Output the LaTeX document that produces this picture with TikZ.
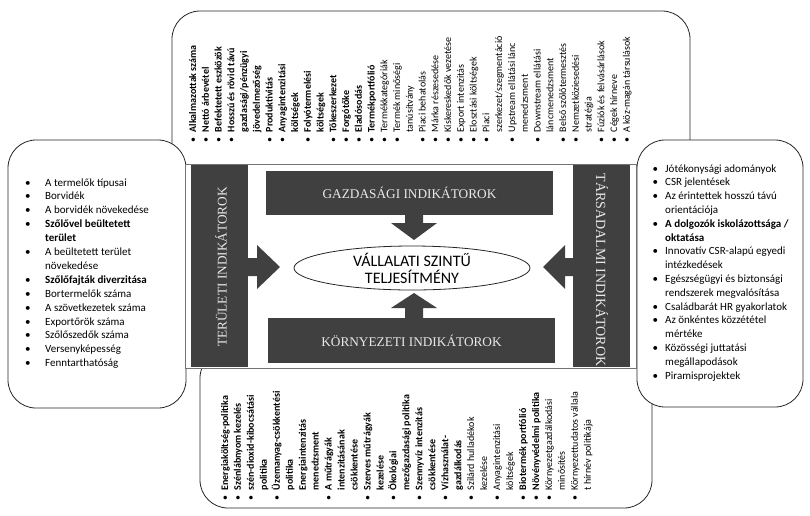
\documentclass[tikz,border=0pt]{standalone}
\usepackage{fontspec}
\setmainfont{Carlito}
\newfontfamily\barserif{Liberation Serif}
\usetikzlibrary{shapes.geometric}
\definecolor{barc}{HTML}{404040}
\definecolor{bartxt}{HTML}{E8E8E8}
\newlength\bulw
\newcommand\lbul{\makebox[\bulw][l]{\textbullet}}
\newcommand\lnob{\hspace*{\bulw}}
\begin{document}
\begin{tikzpicture}[x=1pt,y=-1pt,
  box/.style={draw=black!85,line width=0.8pt,fill=white,rounded corners=28pt},
  darkbar/.style={fill=barc},
  bartext/.style={text=bartxt,font=\barserif\fontsize{13.3}{15}\selectfont,inner sep=0pt},
  vlist/.style={rotate=90,anchor=base west,inner sep=0pt,font={\fontsize{10}{12}\selectfont\setlength\bulw{10pt}}},
  hlistL/.style={anchor=base west,inner sep=0pt,font={\fontsize{11}{13}\selectfont\setlength\bulw{20pt}}},
  hlistR/.style={anchor=base west,inner sep=0pt,font={\fontsize{11}{13}\selectfont\setlength\bulw{12.5pt}}}]
\useasboundingbox (0,0) rectangle (810,515);
\fill[white] (0,0) rectangle (810,515);
% outer boxes
\draw[box] (172,11) rectangle (690,180);
\draw[box] (200,350) rectangle (652,508);
\draw[box] (8,140) rectangle (186,408);
\draw[box] (637,140) rectangle (803,407);
% central frame
\draw[draw=black!55,line width=0.8pt,fill=white] (185,164) rectangle (636,368);
% bars
\fill[darkbar] (191,165) rectangle (248,367);
\fill[darkbar] (573,165) rectangle (630,367);
\fill[darkbar] (266,171) rectangle (553,215);
\fill[darkbar] (268,318) rectangle (555,363);
\node[bartext,rotate=90] (terl) at (221,267) {TERÜLETI INDIKÁTOROK};
\node[bartext,rotate=-90,font=\barserif\fontsize{14}{15}\selectfont] (tars) at (602,270) {TÁRSADALMI INDIKÁTOROK};
\node[bartext] (gazd) at (409.5,193) {GAZDASÁGI INDIKÁTOROK};
\node[bartext] (korny) at (411.5,340.5) {KÖRNYEZETI INDIKÁTOROK};
% block arrows
\fill[darkbar] (405,214) -- (423,214) -- (423,223) -- (437,223) -- (414,240) -- (391,223) -- (405,223) -- cycle;
\fill[darkbar] (405,319) -- (423,319) -- (423,308) -- (437,308) -- (414,293) -- (391,308) -- (405,308) -- cycle;
\fill[darkbar] (247,258) -- (257,258) -- (257,245) -- (280,267) -- (257,289) -- (257,276) -- (247,276) -- cycle;
\fill[darkbar] (574,258) -- (565,258) -- (565,245) -- (543,267) -- (565,289) -- (565,276) -- (574,276) -- cycle;
% centre ellipse
\node[ellipse,draw=black!85,line width=0.8pt,fill=white,minimum width=236pt,minimum height=44pt,inner sep=0pt,align=center,font=\fontsize{16}{17}\selectfont] (perf) at (412,268) {VÁLLALATI SZINTŰ\\TELJESÍTMÉNY};
% top list
\foreach \txt [count=\i from 0] in {
 {\lbul\textbf{Alkalmazottak száma}},
 {\lbul\textbf{Nettó árbevétel}},
 {\lbul\textbf{Befektetett eszközök}},
 {\lbul\textbf{Hosszú és rövid távú}},
 {\lnob\textbf{gazdasági/pénzügyi}},
 {\lnob\textbf{jövedelmezőség}},
 {\lbul\textbf{Produktivitás}},
 {\lbul\textbf{Anyagintenzitási}},
 {\lnob\textbf{költségek}},
 {\lbul\textbf{Folyótermelési}},
 {\lnob\textbf{költségek}},
 {\lbul\textbf{Tőkeszerkezet}},
 {\lbul\textbf{Forgótőke}},
 {\lbul\textbf{Eladósodás}},
 {\lbul\textbf{Termékportfólió}},
 {\lbul Termékkategóriák},
 {\lbul Termék minőségi},
 {\lnob tanúsítvány},
 {\lbul Piaci behatolás},
 {\lbul Márka részesedése},
 {\lbul Kiskereskedők vezetése},
 {\lbul Export intenzitás},
 {\lbul Elosztási költségek},
 {\lbul Piaci},
 {\lnob szerkezet/szegmentáció},
 {\lbul Upstream ellátási lánc},
 {\lnob menedzsment},
 {\lbul Downstream ellátási},
 {\lnob láncmenedzsment},
 {\lbul Belső szőlőtermesztés},
 {\lbul Nemzetköziesedési},
 {\lnob stratégia},
 {\lbul Fúziók és felvásárlások},
 {\lbul Cégek hírneve},
 {\lbul A köz-magán társulások}}
 \node[vlist] (top\i) at ({196+\i*12.76},142.5) {\txt};
% bottom list
\foreach \txt [count=\i from 0] in {
 {\lbul\textbf{Energiaköltség-politika}},
 {\lbul\textbf{Szénlábnyom kezelés}},
 {\lbul\textbf{szén-dioxid-kibocsátási}},
 {\lnob\textbf{politika}},
 {\lbul\textbf{Üzemanyag-csökkentési}},
 {\lnob\textbf{politika}},
 {\lnob\textbf{Energiaintenzitás}},
 {\lnob\textbf{menedzsment}},
 {\lbul\textbf{A műtrágyák}},
 {\lnob\textbf{intenzitásának}},
 {\lnob\textbf{csökkentése}},
 {\lbul\textbf{Szerves műtrágyák}},
 {\lnob\textbf{kezelése}},
 {\lbul\textbf{Ökológiai}},
 {\lnob\textbf{mezőgazdasági politika}},
 {\lbul\textbf{Szennyvíz intenzitás}},
 {\lnob\textbf{csökkentése}},
 {\lbul\textbf{Vízhasználat-}},
 {\lnob\textbf{gazdálkodás}},
 {\lbul Szilárd hulladékok},
 {\lnob kezelése},
 {\lbul Anyagintenzitási},
 {\lnob költségek},
 {\lbul\textbf{Biotermék portfólió}},
 {\lbul\textbf{Növényvédelmi politika}},
 {\lbul Környezetgazdálkodási},
 {\lnob minősítés},
 {\lbul Környezettudatos vállala},
 {\lnob t hírnév politikája}}
 \node[vlist] (bot\i) at ({228+\i*12.96},500.5) {\txt};
% left list
\foreach \txt [count=\i from 0] in {
 {\lbul A termelők típusai},
 {\lbul Borvidék},
 {\lbul A borvidék növekedése},
 {\lbul\textbf{Szőlővel beültetett}},
 {\lnob\textbf{terület}},
 {\lbul A beültetett terület},
 {\lnob növekedése},
 {\lbul\textbf{Szőlőfajták diverzitása}},
 {\lbul Bortermelők száma},
 {\lbul A szövetkezetek száma},
 {\lbul Exportőrök  száma},
 {\lbul Szőlőszedők száma},
 {\lbul Versenyképesség},
 {\lbul Fenntarthatóság}}
 \node[hlistL] (lft\i) at (25,{186+\i*13.9}) {\txt};
% right list
\foreach \txt [count=\i from 0] in {
 {\lbul Jótékonysági adományok},
 {\lbul CSR jelentések},
 {\lbul Az érintettek hosszú távú},
 {\lnob orientációja},
 {\lbul\textbf{A dolgozók iskolázottsága /}},
 {\lnob\textbf{oktatása}},
 {\lbul Innovatív CSR-alapú egyedi},
 {\lnob intézkedések},
 {\lbul Egészségügyi és biztonsági},
 {\lnob rendszerek megvalósítása},
 {\lbul Családbarát HR gyakorlatok},
 {\lbul Az önkéntes közzététel},
 {\lnob mértéke},
 {\lbul Közösségi juttatási},
 {\lnob megállapodások},
 {\lbul Piramisprojektek}}
 \node[hlistR] (rgt\i) at (652.5,{172+\i*13.8}) {\txt};
\end{tikzpicture}
\end{document}
